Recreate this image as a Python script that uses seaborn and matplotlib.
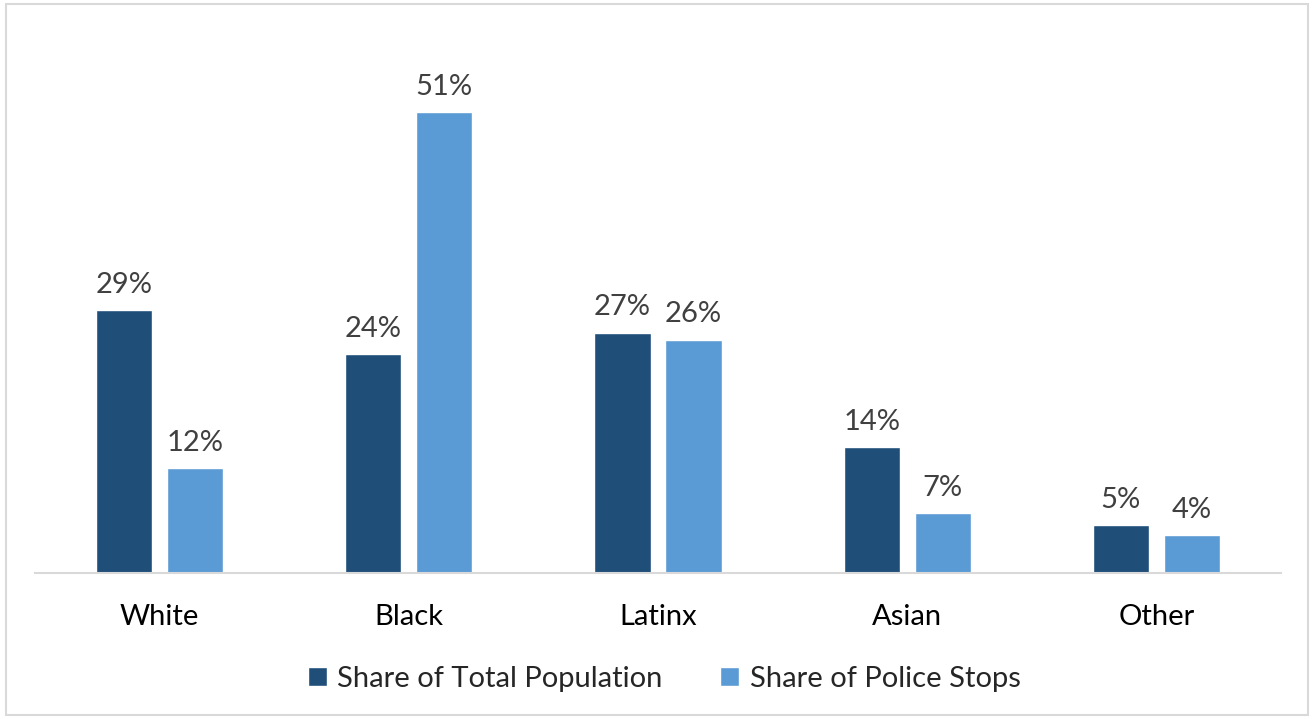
import matplotlib
matplotlib.use("Agg")
import matplotlib.pyplot as plt
import seaborn as sns
import pandas as pd
from matplotlib.patches import Rectangle

categories = ["White", "Black", "Latinx", "Asian", "Other"]
series_names = ["Share of Total Population", "Share of Police Stops"]
population = [29.1, 24.2, 26.6, 13.9, 5.3]
stops = [11.6, 51.0, 25.8, 6.6, 4.2]

colors = ["#1F4E79", "#5B9BD5"]

df = pd.DataFrame({
    "Race": categories * 2,
    "Series": [series_names[0]] * len(categories) + [series_names[1]] * len(categories),
    "Value": population + stops,
})

sns.set_theme(style="white")
plt.rcParams["font.family"] = ["Lato", "DejaVu Sans"]

W, H = 1312, 719
fig = plt.figure(figsize=(W / 100, H / 100), dpi=100)
ax = fig.add_axes([35 / W, (H - 573) / H, (1281 - 35) / W, (573 - 76) / H])

sns.barplot(data=df, x="Race", y="Value", hue="Series", palette=colors,
            width=0.57, gap=0.21, ax=ax, saturation=1, legend=True)

ax.set_ylim(0, 55)
ax.set_xlim(-0.5, len(categories) - 0.5)
for c in ax.containers:
    ax.bar_label(c, labels=[f"{v:.0f}%" for v in c.datavalues], padding=9,
                 fontsize=21, color="#404040")

ax.set_xlabel("")
ax.set_ylabel("")
ax.set_yticks([])
ax.tick_params(axis="x", labelsize=21, colors="black", pad=22, length=0)
for s in ["top", "right", "left"]:
    ax.spines[s].set_visible(False)
ax.spines["bottom"].set_color("#D9D9D9")
ax.spines["bottom"].set_linewidth(1.5)

handles, labels = ax.get_legend_handles_labels()
ax.legend(handles, labels, loc="center", bbox_to_anchor=(664 / W, (H - 679) / H),
          bbox_transform=fig.transFigure, ncol=2, frameon=False, fontsize=21,
          handlelength=0.65, handleheight=0.65, handletextpad=0.35, columnspacing=2.0)

fig.patches.append(Rectangle((6 / W, 4 / H), (1308 - 6) / W, (715 - 4) / H,
                             transform=fig.transFigure, fill=False,
                             edgecolor="#D9D9D9", linewidth=1.5))

fig.savefig("out.png", dpi=100)
